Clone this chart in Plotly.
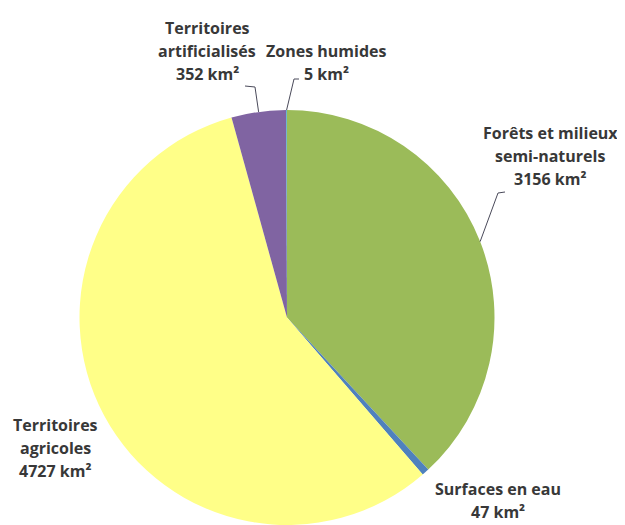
import math
import plotly.graph_objects as go

categories = ["Forêts et milieux semi-naturels", "Surfaces en eau", "Territoires agricoles",
              "Territoires artificialisés", "Zones humides"]
label_lines = [["Forêts et milieux", "semi-naturels"], ["Surfaces en eau"],
               ["Territoires", "agricoles"], ["Territoires", "artificialisés"], ["Zones humides"]]
values = [3156, 47, 4727, 352, 5]
colors = ["#9BBB59", "#4F81BD", "#FFFF88", "#8064A2", "#4BACC6"]

W, H = 625, 525
OFF = 8  # page body margin
CX, CY, R = 287, 317.5, 207.5

# label centre x and first line y (screen px), line spacing
label_pos = [(550, 133), (498, 489), (55, 425), (207, 28), (326, 51)]
LS = 23
# leader lines: elbow and end points (screen px), None = no line
leaders = [((498, 193), (505, 192)), None, None, ((255, 87), (245, 86)), ((294, 79), (299, 79))]

def px(x, y):
    return (x - OFF) / W, 1 - (y - OFF) / H

d0 = px(CX - R, CY + R)
d1 = px(CX + R, CY - R)
fig = go.Figure(go.Pie(
    labels=categories, values=values, sort=False, direction="clockwise", rotation=0,
    marker=dict(colors=colors, line=dict(width=0)), textinfo="none", hoverinfo="label+value",
    domain=dict(x=[d0[0], d1[0]], y=[max(0, d0[1]), d1[1]]),
))

annotations = []
shapes = []
total = sum(values)
cum = 0
for i, v in enumerate(values):
    mid = (cum + v / 2) / total * 2 * math.pi
    cum += v
    lines = label_lines[i] + [f"{v} km²"]
    lx, ly = label_pos[i]
    for k, t in enumerate(lines):
        x, y = px(lx, ly + k * LS)
        annotations.append(dict(x=x, y=y, xref="paper", yref="paper", text=t, showarrow=False,
                                xanchor="center", yanchor="middle",
                                font=dict(family="Open Sans", size=16, color="#383838", weight="bold")))
    if leaders[i]:
        ex, ey = CX + R * math.sin(mid), CY - R * math.cos(mid)
        (bx, by), (tx, ty) = leaders[i]
        for (x0, y0), (x1, y1) in [((ex, ey), (bx, by)), ((bx, by), (tx, ty))]:
            a0, b0 = px(x0, y0)
            a1, b1 = px(x1, y1)
            shapes.append(dict(type="line", xref="paper", yref="paper", x0=a0, y0=b0, x1=a1, y1=b1,
                               line=dict(color="#4a4a5a", width=1)))

fig.update_layout(width=W, height=H, margin=dict(l=0, r=0, t=0, b=0), showlegend=False,
                  paper_bgcolor="white", annotations=annotations, shapes=shapes)
fig.write_html("out.html")
